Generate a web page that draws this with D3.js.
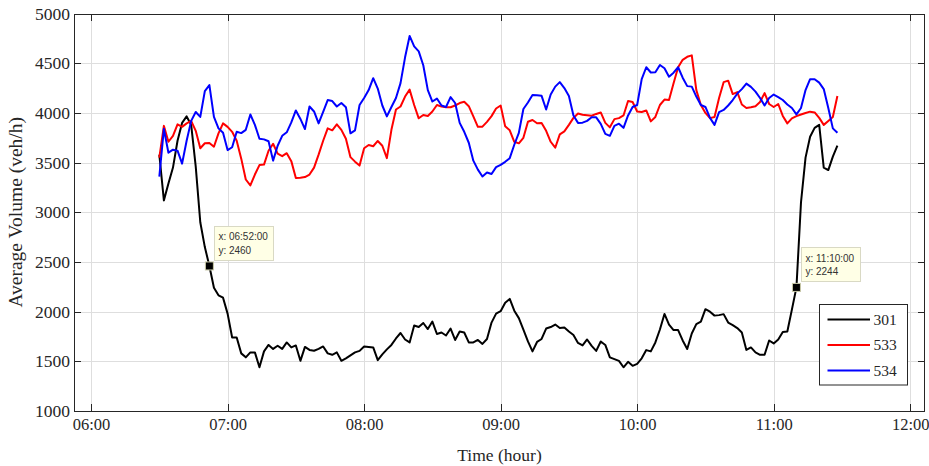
<!DOCTYPE html>
<html>
<head>
<meta charset="utf-8">
<script src="https://cdn.jsdelivr.net/npm/d3@7"></script>
<style>
  html, body { margin: 0; padding: 0; background: #ffffff; }
  svg { display: block; }
</style>
</head>
<body>
<svg id="chart" width="929" height="466"></svg>
<script>
// ---------------- DATA ----------------
const seriesNames = ["301", "533", "534"];
const seriesColors = ["#000000", "#ff0000", "#0000ff"];
const startTime = "06:30";      // first sample
const stepMinutes = 2;          // sampling interval

const vol301 = [
  3580,3120,3290,3450,3720,3900,3965,3880,3460,2900,2650,2460,2240,2165,2140,
  1980,1740,1740,1580,1540,1590,1590,1440,1600,1665,1625,1657,1625,1690,1640,
  1660,1505,1645,1615,1606,1625,1650,1580,1566,1590,1505,1530,1560,1590,1605,
  1650,1645,1640,1512,1570,1620,1665,1730,1785,1720,1690,1860,1845,1886,1825,
  1900,1775,1790,1760,1830,1715,1800,1790,1690,1690,1715,1675,1725,1890,1980,
  2005,2090,2128,2010,1935,1820,1700,1600,1695,1725,1830,1845,1870,1836,1840,
  1800,1765,1685,1660,1720,1655,1605,1700,1665,1540,1522,1505,1440,1495,1455,
  1475,1530,1613,1600,1690,1820,1977,1870,1815,1815,1710,1624,1780,1875,1900,
  2025,2000,1960,1965,1975,1890,1865,1835,1790,1615,1640,1590,1566,1566,1710,
  1680,1720,1795,1800,2020,2244,3100,3550,3760,3850,3880,3450,3425,3560,3670
];
const vol533 = [
  3550,3870,3710,3770,3885,3860,3895,3920,3820,3645,3695,3698,3660,3795,3895,
  3860,3810,3720,3540,3330,3270,3380,3475,3480,3620,3690,3590,3565,3595,3515,
  3345,3348,3355,3380,3450,3580,3720,3845,3825,3885,3830,3740,3555,3510,3470,
  3645,3677,3665,3718,3670,3545,3830,4035,4065,4165,4235,4080,3946,3980,3970,
  4015,4080,4064,4057,4057,4075,4100,4112,4068,3965,3860,3862,3910,3968,4045,
  4075,3865,3825,3710,3694,3750,3912,3929,3896,3900,3820,3710,3650,3785,3815,
  3880,3950,3995,3982,3978,3972,3990,4005,3900,3855,3938,3948,3975,4121,4110,
  4015,4010,4025,3915,3960,4080,4135,4130,4300,4460,4535,4565,4580,4230,4080,
  4000,3948,3960,4150,4310,4325,4190,4210,4085,4050,4058,4068,4110,4200,4090,
  4060,4090,3970,3895,3945,3968,3985,4000,4013,4005,3950,3880,3920,3960,4170
];
const vol534 = [
  3360,3840,3600,3630,3620,3490,3720,3920,4010,3960,4220,4280,3960,3845,3800,
  3626,3655,3810,3797,3830,3985,3880,3740,3734,3715,3520,3670,3770,3805,3905,
  4025,3940,3838,4065,4015,3895,4010,4130,4120,4065,4100,4058,3795,3825,4080,
  4150,4230,4350,4245,4075,3965,4060,4150,4300,4560,4775,4670,4620,4480,4230,
  4115,4145,4075,4060,4160,4100,3900,3810,3700,3520,3430,3360,3400,3385,3455,
  3478,3508,3545,3680,3800,4040,4105,4180,4178,4172,4035,4185,4265,4310,4250,
  4170,3975,3900,3902,3920,3956,3956,3890,3790,3770,3870,3892,3850,3975,4060,
  4080,4340,4460,4407,4410,4483,4450,4365,4405,4460,4355,4270,4265,4165,4080,
  4060,3950,3880,4008,4030,4075,4130,4195,4240,4295,4262,4215,4150,4075,4150,
  4185,4160,4130,4085,4050,3985,4050,4230,4340,4340,4305,4240,4050,3845,3800
];

const xTickLabels = ["06:00", "07:00", "08:00", "09:00", "10:00", "11:00", "12:00"];
const yTicks = [1000, 1500, 2000, 2500, 3000, 3500, 4000, 4500, 5000];
const xDomainLabels = ["05:52:30", "12:06:30"];

const dataTipSeries = ["301", "301"];
const dataTipTimes = ["06:52:00", "11:10:00"];
const dataTipValues = [2460, 2244];

const xTitle = "Time (hour)";
const yTitle = "Average Volume (veh/h)";

// ---------------- SETUP ----------------
const svg = d3.select("#chart");
const W = 929, H = 466;
const plot = { left: 74, right: 925, top: 13.6, bottom: 411 };
const serif = "'Liberation Serif', 'Times New Roman', serif";
const sans = "'Liberation Sans', Arial, sans-serif";
const axisColor = "#262626";
const gridColor = "#dedede";

const parseHM = d3.timeParse("%H:%M");
const parseHMS = d3.timeParse("%H:%M:%S");
const t0 = parseHM(startTime);

const x = d3.scaleTime()
  .domain(xDomainLabels.map(parseHMS))
  .range([plot.left, plot.right]);
const y = d3.scaleLinear()
  .domain([yTicks[0], yTicks[yTicks.length - 1]])
  .range([plot.bottom, plot.top]);

const xTickDates = xTickLabels.map(parseHM);

svg.append("rect").attr("x", 0).attr("y", 0).attr("width", W).attr("height", H).attr("fill", "#ffffff");

// Grid
const grid = svg.append("g").attr("shape-rendering", "crispEdges");
grid.selectAll("line.gx").data(xTickDates).join("line")
  .attr("x1", d => Math.round(x(d)) + 0.5).attr("x2", d => Math.round(x(d)) + 0.5)
  .attr("y1", plot.top).attr("y2", plot.bottom)
  .attr("stroke", gridColor).attr("stroke-width", 1);
grid.selectAll("line.gy").data(yTicks).join("line")
  .attr("y1", d => Math.round(y(d)) + 0.5).attr("y2", d => Math.round(y(d)) + 0.5)
  .attr("x1", plot.left).attr("x2", plot.right)
  .attr("stroke", gridColor).attr("stroke-width", 1);

// Series lines
const seriesData = [vol301, vol533, vol534];
const timeAt = i => d3.timeMinute.offset(t0, i * stepMinutes);
const line = d3.line()
  .x((d, i) => x(timeAt(i)))
  .y(d => y(d));

const clip = svg.append("clipPath").attr("id", "plotclip")
  .append("rect").attr("x", plot.left).attr("y", plot.top)
  .attr("width", plot.right - plot.left).attr("height", plot.bottom - plot.top);

svg.append("g").attr("clip-path", "url(#plotclip)")
  .selectAll("path").data(seriesData).join("path")
  .attr("d", d => line(d))
  .attr("fill", "none")
  .attr("stroke", (d, i) => seriesColors[i])
  .attr("stroke-width", 2)
  .attr("stroke-linejoin", "round");

// Axes (ticks inside, box on)
function styleAxis(g) {
  g.select(".domain").remove();
  g.selectAll(".tick line").attr("stroke", axisColor).attr("shape-rendering", "crispEdges");
  g.selectAll(".tick text").attr("fill", axisColor);
}
const xFmt = d3.timeFormat("%H:%M");

svg.append("g")
  .attr("transform", `translate(0,${plot.bottom})`)
  .call(d3.axisBottom(x).tickValues(xTickDates).tickFormat(xFmt).tickSizeInner(-7).tickSizeOuter(0).tickPadding(7))
  .call(styleAxis)
  .call(g => g.selectAll(".tick text").attr("font-family", serif).attr("font-size", 16.5));

svg.append("g")
  .attr("transform", `translate(0,${plot.top})`)
  .call(d3.axisTop(x).tickValues(xTickDates).tickFormat("").tickSizeInner(-7).tickSizeOuter(0))
  .call(styleAxis);

svg.append("g")
  .attr("transform", `translate(${plot.left},0)`)
  .call(d3.axisLeft(y).tickValues(yTicks).tickFormat(d3.format("d")).tickSizeInner(-7).tickSizeOuter(0).tickPadding(4))
  .call(styleAxis)
  .call(g => g.selectAll(".tick text").attr("font-family", serif).attr("font-size", 17.5));

svg.append("g")
  .attr("transform", `translate(${plot.right},0)`)
  .call(d3.axisRight(y).tickValues(yTicks).tickFormat("").tickSizeInner(-7).tickSizeOuter(0))
  .call(styleAxis);

// Frame
svg.append("rect")
  .attr("x", plot.left + 0.5).attr("y", Math.round(plot.top) + 0.5)
  .attr("width", plot.right - plot.left - 1).attr("height", Math.round(plot.bottom) - Math.round(plot.top))
  .attr("fill", "none").attr("stroke", axisColor).attr("stroke-width", 1)
  .attr("shape-rendering", "crispEdges");

// Axis titles
svg.append("text")
  .attr("x", (plot.left + plot.right) / 2).attr("y", 461)
  .attr("text-anchor", "middle")
  .attr("font-family", serif).attr("font-size", 17.5).attr("fill", axisColor)
  .text(xTitle);
svg.append("text")
  .attr("transform", `translate(22,${(plot.top + plot.bottom) / 2}) rotate(-90)`)
  .attr("text-anchor", "middle")
  .attr("font-family", serif).attr("font-size", 19.5).attr("fill", axisColor)
  .text(yTitle);

// Data tips
const tipG = svg.append("g");
dataTipTimes.forEach((tt, k) => {
  const si = seriesNames.indexOf(dataTipSeries[k]);
  const px = x(parseHMS(tt));
  const py = y(dataTipValues[k]);
  const bx = px + 5, by = py - 40;
  tipG.append("rect")
    .attr("x", Math.round(bx) + 0.5).attr("y", Math.round(by) + 0.5)
    .attr("width", 59).attr("height", 34)
    .attr("fill", "#ffffe6").attr("stroke", "#d9d9c4").attr("stroke-width", 1);
  tipG.append("text")
    .attr("x", bx + 4).attr("y", by + 14.5)
    .attr("font-family", sans).attr("font-size", 10).attr("fill", "#333333")
    .text("x: " + tt);
  tipG.append("text")
    .attr("x", bx + 4).attr("y", by + 28)
    .attr("font-family", sans).attr("font-size", 10).attr("fill", "#333333")
    .text("y: " + dataTipValues[k]);
  tipG.append("rect")
    .attr("x", px - 4).attr("y", py - 4).attr("width", 8).attr("height", 8)
    .attr("fill", seriesColors[si]).attr("stroke", "#c9c9a8").attr("stroke-width", 1);
});

// Legend
const leg = svg.append("g").attr("transform", "translate(819.5,304.5)");
leg.append("rect").attr("width", 88).attr("height", 80.5)
  .attr("fill", "#ffffff").attr("stroke", axisColor).attr("stroke-width", 1);
seriesNames.forEach((name, i) => {
  const ly = 15 + i * 25.5;
  leg.append("line").attr("x1", 8).attr("x2", 50.5).attr("y1", ly).attr("y2", ly)
    .attr("stroke", seriesColors[i]).attr("stroke-width", 2);
  leg.append("text").attr("x", 54).attr("y", ly).attr("dy", "0.35em")
    .attr("font-family", serif).attr("font-size", 15.5).attr("fill", axisColor)
    .text(name);
});
</script>
</body>
</html>
